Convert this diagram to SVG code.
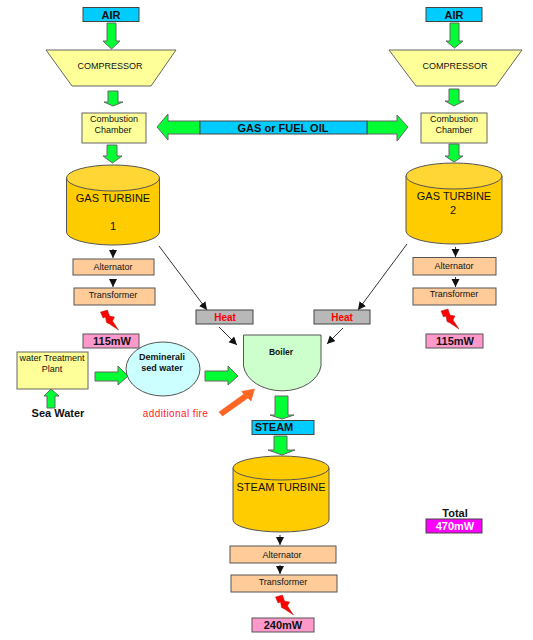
<svg xmlns="http://www.w3.org/2000/svg" width="533" height="640" viewBox="0 0 533 640">
<style>
text{font-family:"Liberation Sans",Arial,sans-serif;text-anchor:middle;fill:#111}
.g{fill:#00ff33;stroke:#666;stroke-width:1}
.blue{fill:#00ccff;stroke:#444;stroke-width:1}
.y{fill:#ffff99;stroke:#666;stroke-width:1}
.o{fill:#ffcc00;stroke:#555;stroke-width:1}
.ot{fill:#ffd633;stroke:#555;stroke-width:1}
.p{fill:#ffcc99;stroke:#555;stroke-width:1}
.m{fill:#ff99cc;stroke:#555;stroke-width:1}
.h{fill:#b8b8b8;stroke:#444;stroke-width:1}
.b{font-weight:bold}
.t9{font-size:9px}
.t10{font-size:10px}
.t11{font-size:11px}
.c{stroke:#333;stroke-width:1;fill:none;marker-end:url(#a)}
.bolt{fill:#ff0000;stroke:#aa2222;stroke-width:.5}
</style>
<defs>
<marker id="a" markerUnits="userSpaceOnUse" markerWidth="9" markerHeight="9" refX="8" refY="4" orient="auto"><path d="M0 0L8 4L0 8Z" fill="#111"/></marker>
<path id="bolt" d="M0 2L7 0L9 6L14 7L12 11L18 20L9 14L6 12.500L5 7L2.500 8Z"/>
</defs>

<g id="connectors">
<path class="g" d="M107 23H116V41H120L111.500 49L103 41H107Z"/>
<path class="g" d="M108 91H118V102H123L113 106L104 102H108Z"/>
<path class="g" d="M107 145H117V156H122L112.500 163L103 156H107Z"/>
<path class="g" d="M450 23H459V41H463L454.500 48L446 41H450Z"/>
<path class="g" d="M449 89H459V101H464L454 106L445 101H449Z"/>
<path class="g" d="M449 144H459V156H463L454 162L445 156H449Z"/>
<path class="g" d="M200 121H168V114L157 127L168 140V134H200Z"/>
<path class="g" d="M367 121H397V115L408 127L397 141V134H367Z"/>
<path class="g" d="M95 372H118V366L128 376L118 385V381H95Z"/>
<path class="g" d="M205 371H228V366L238 376L228 385V381H205Z"/>
<path class="g" d="M47 408V396H44L51 389L59 396H55V408Z"/>
<path class="g" d="M275 396H288V415H294L282 419L270 415H275Z"/>
<path class="g" d="M274 436H287V450H295L282 455L268 450H274Z"/>
<path d="M219 412L244 394L241.500 391.500L254.500 389L251 401L248 398L222.500 416Z" fill="#ff6622" stroke="#ee5522" stroke-width=".5"/>
<line class="c" x1="113" y1="249" x2="113" y2="258"/>
<line class="c" x1="113" y1="279" x2="113" y2="287"/>
<line class="c" x1="455.500" y1="247" x2="455.500" y2="257"/>
<line class="c" x1="455.500" y1="277" x2="455.500" y2="287"/>
<line class="c" x1="280" y1="535" x2="280" y2="545"/>
<line class="c" x1="280" y1="565" x2="280" y2="574"/>
<line class="c" x1="159" y1="246" x2="207" y2="310"/>
<line class="c" x1="407" y1="244" x2="358" y2="310"/>
<line class="c" x1="219" y1="327" x2="237" y2="345"/>
<line class="c" x1="343" y1="328" x2="327" y2="344"/>
</g>

<g id="air-1"><rect class="blue" x="83" y="7.500" width="56" height="14"/><text class="b t11" x="111" y="19">AIR</text></g>
<g id="air-2"><rect class="blue" x="426" y="7.500" width="56" height="14"/><text class="b t11" x="454" y="19">AIR</text></g>
<g id="compressor-1"><path class="y" d="M46 50H176L151 86H72Z"/><text class="t9" x="110" y="69">COMPRESSOR</text></g>
<g id="compressor-2"><path class="y" d="M389 50H522L496 86H416Z"/><text class="t9" x="455" y="69">COMPRESSOR</text></g>
<g id="combustion-1"><rect class="y" x="82" y="113" width="64" height="30"/><text class="t9" x="114" y="122">Combustion</text><text class="t9" x="113" y="133">Chamber</text></g>
<g id="combustion-2"><rect class="y" x="421" y="113" width="66" height="30"/><text class="t9" x="454" y="122">Combustion</text><text class="t9" x="454" y="133">Chamber</text></g>
<g id="fuel"><rect class="blue" x="200" y="121" width="167" height="13"/><text class="b t11" x="283" y="132">GAS or FUEL OIL</text></g>
<g id="gas-turbine-1"><path class="o" d="M66.500 178V232A46.500 13 0 0 0 159.500 232V178Z"/><ellipse class="ot" cx="113" cy="178" rx="46.500" ry="13"/><text class="t11" x="113" y="202">GAS TURBINE</text><text class="t11" x="113" y="230">1</text></g>
<g id="gas-turbine-2"><path class="o" d="M406 176V231A48 13 0 0 0 502 231V176Z"/><ellipse class="ot" cx="454" cy="176" rx="48" ry="13"/><text class="t11" x="454" y="200">GAS TURBINE</text><text class="t11" x="453" y="214">2</text></g>
<g id="alternator-1"><rect class="p" x="73" y="259" width="81" height="16"/><text class="t9" x="113" y="270">Alternator</text></g>
<g id="transformer-1"><rect class="p" x="74" y="288" width="81" height="17"/><text class="t9" x="113" y="298">Transformer</text></g>
<g id="alternator-2"><rect class="p" x="413" y="257.500" width="83" height="17.500"/><text class="t9" x="454" y="269">Alternator</text></g>
<g id="transformer-2"><rect class="p" x="413" y="288" width="83" height="17"/><text class="t9" x="454" y="297">Transformer</text></g>
<g id="bolts"><use href="#bolt" class="bolt" x="100.500" y="310"/><use href="#bolt" class="bolt" x="441" y="309"/><use href="#bolt" class="bolt" x="275.500" y="595"/></g>
<g id="output-1"><rect class="m" x="83" y="334" width="56" height="14"/><text class="b t11" x="112" y="345">115mW</text></g>
<g id="output-2"><rect class="m" x="426" y="334" width="57" height="14"/><text class="b t11" x="455" y="345">115mW</text></g>
<g id="water-treatment"><rect class="y" x="17" y="352" width="71" height="37"/><text class="t9" x="52" y="361">water Treatment</text><text class="t9" x="52" y="372">Plant</text></g>
<g id="sea-water"><text class="b t11" x="58" y="417">Sea Water</text></g>
<g id="demineralised"><ellipse cx="163" cy="369" rx="37" ry="27" fill="#ccffff" stroke="#555"/><text class="b t9" x="162" y="360">Deminerali</text><text class="b t9" x="162" y="371">sed water</text></g>
<g id="additional-fire"><text class="t10" x="175.500" y="417" style="fill:#ff2222;letter-spacing:.4px">additional fire</text></g>
<g id="heat-1"><rect class="h" x="196" y="310" width="57" height="14"/><text class="b t10" x="225" y="321" style="fill:#ff0000">Heat</text></g>
<g id="heat-2"><rect class="h" x="314" y="310" width="56" height="14"/><text class="b t10" x="342" y="321" style="fill:#ff0000">Heat</text></g>
<g id="boiler"><path d="M243.500 335H321V366A39 28 0 0 1 243.500 366Z" fill="#ccffcc" stroke="#555"/><text class="b" x="281" y="355" style="font-size:8.500px">Boiler</text></g>
<g id="steam"><rect class="blue" x="252" y="420.500" width="62" height="14"/><text class="b t11" x="274" y="431">STEAM</text></g>
<g id="steam-turbine"><path class="o" d="M233 468V520A48 12 0 0 0 329 520V468Z"/><ellipse class="o" cx="281" cy="468" rx="48" ry="12"/><text class="t11" x="281" y="491">STEAM TURBINE</text></g>
<g id="alternator-3"><rect class="p" x="230" y="546" width="106" height="17"/><text class="t9" x="282" y="558">Alternator</text></g>
<g id="transformer-3"><rect class="p" x="231" y="575" width="106" height="17"/><text class="t9" x="283" y="585">Transformer</text></g>
<g id="output-3"><rect class="m" x="252" y="618" width="62" height="14"/><text class="b t11" x="283" y="629">240mW</text></g>
<g id="total"><text class="b t11" x="455" y="517">Total</text><rect x="426" y="519" width="56" height="14" fill="#ff00ff" stroke="#444"/><text class="b t11" x="455" y="530" style="fill:#fff">470mW</text></g>
</svg>
